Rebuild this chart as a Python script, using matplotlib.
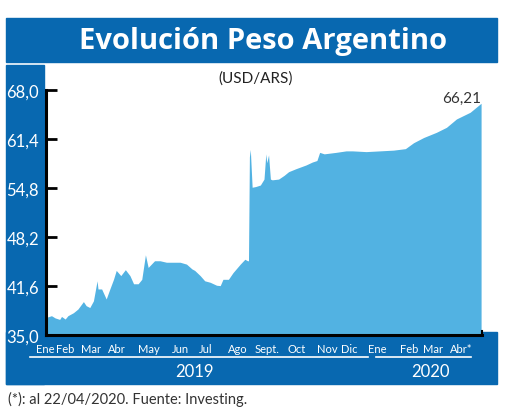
import matplotlib
matplotlib.use("Agg")
import matplotlib.pyplot as plt
from matplotlib.patches import Rectangle
from matplotlib.lines import Line2D
import pandas as pd

# --- data ---
dates = [
    "2019-01-02", "2019-01-07", "2019-01-11", "2019-01-16", "2019-01-18", "2019-01-22",
    "2019-01-25", "2019-01-31", "2019-02-05", "2019-02-11", "2019-02-14", "2019-02-18",
    "2019-02-22", "2019-02-26", "2019-02-27", "2019-03-03", "2019-03-08", "2019-03-12",
    "2019-03-16", "2019-03-19", "2019-03-24", "2019-03-29", "2019-04-03", "2019-04-07",
    "2019-04-12", "2019-04-16", "2019-04-20", "2019-04-23", "2019-04-30", "2019-05-06",
    "2019-05-13", "2019-05-17", "2019-05-28", "2019-06-04", "2019-06-10", "2019-06-13",
    "2019-06-19", "2019-06-24", "2019-06-30", "2019-07-07", "2019-07-11", "2019-07-14",
    "2019-07-20", "2019-07-25", "2019-08-02", "2019-08-07", "2019-08-10", "2019-08-11",
    "2019-08-12", "2019-08-13", "2019-08-15", "2019-08-19", "2019-08-24", "2019-08-28",
    "2019-08-30", "2019-08-31", "2019-09-02", "2019-09-04", "2019-09-06", "2019-09-13",
    "2019-09-19", "2019-09-24", "2019-10-02", "2019-10-13", "2019-10-20", "2019-10-25",
    "2019-10-28", "2019-11-02", "2019-11-15", "2019-11-26", "2019-12-03", "2019-12-18",
    "2020-01-02", "2020-01-17", "2020-01-30", "2020-02-08", "2020-02-19", "2020-03-04",
    "2020-03-15", "2020-03-26", "2020-04-10", "2020-04-22",
]
usd_ars = [
    37.4, 37.6, 37.3, 37.1, 37.5, 37.15,
    37.6, 38.0, 38.5, 39.5, 38.95, 38.7,
    39.6, 42.3, 41.2, 41.2, 39.85, 41.2,
    42.5, 43.7, 43.0, 43.8, 43.0, 41.9,
    41.9, 42.5, 45.8, 44.1, 45.0, 45.0,
    44.8, 44.8, 44.8, 44.55, 43.9, 43.7,
    43.0, 42.3, 42.1, 41.7, 41.65, 42.5,
    42.5, 43.4, 44.55, 45.2, 45.0, 45.0,
    59.0, 60.0, 54.9, 55.0, 55.2, 56.0,
    59.4, 58.2, 59.25, 56.0, 55.9, 56.0,
    56.5, 57.0, 57.4, 57.9, 58.3, 58.5,
    59.6, 59.4, 59.6, 59.8, 59.8, 59.7,
    59.8, 59.9, 60.1, 60.9, 61.6, 62.3,
    62.97, 64.1, 65.0, 66.21,
]
yticks = [35.0, 41.6, 48.2, 54.8, 61.4, 68.0]
month_labels = ["Ene", "Feb", "Mar", "Abr", "May", "Jun", "Jul", "Ago", "Sept.",
                "Oct", "Nov", "Dic", "Ene", "Feb", "Mar", "Abr*"]
month_pos = ["2018-12-31", "2019-01-22", "2019-02-19", "2019-03-20", "2019-04-24",
             "2019-05-28", "2019-06-25", "2019-07-30", "2019-08-31", "2019-10-03",
             "2019-11-05", "2019-11-30", "2019-12-30", "2020-02-03", "2020-02-29",
             "2020-03-31"]
last_label = "66,21"

BLUE = "#0868B0"
FILL = "#52B2E2"
W, H = 520, 410


def fx(px):
    return px / W


def fy(py):
    return 1 - py / H


plt.rcParams["font.family"] = ["Lato", "DejaVu Sans"]
fig = plt.figure(figsize=(W / 100, H / 100), dpi=100)

# blue frame pieces
for x0, y0, x1, y1 in [(6, 19, 497, 63), (6, 66, 44, 385), (6, 333, 497, 385)]:
    fig.add_artist(Rectangle((fx(x0), fy(y1)), fx(x1) - fx(x0), fy(y0) - fy(y1),
                             transform=fig.transFigure, color=BLUE, zorder=-5))

fig.text(fx(263), fy(41), "Evolución Peso Argentino", color="white",
         fontsize=21, fontweight="bold", ha="center", va="center",
         family=["Open Sans", "DejaVu Sans"])
fig.text(fx(256), fy(79), "(USD/ARS)", color="#222222", fontsize=11,
         ha="center", va="center")
fig.text(fx(8), fy(399), "(*): al 22/04/2020. Fuente: Investing.", color="#333333",
         fontsize=10.5, ha="left", va="center")

ax = fig.add_axes([fx(46), fy(336), fx(482) - fx(46), fy(91) - fy(336)])
ax.set_facecolor("none")

d = pd.to_datetime(dates)
ax.fill_between(d, 35, usd_ars, color=FILL, lw=0)
ax.set_ylim(35, 68)
ax.set_xlim(pd.Timestamp("2019-01-01"), pd.Timestamp("2020-04-23"))

ax.set_yticks(yticks)
ax.set_yticklabels([f"{t:.1f}".replace(".", ",") for t in yticks])
ax.tick_params(axis="y", direction="in", length=8, width=2, colors="black",
               labelcolor="white", labelsize=12, pad=5)
ax.set_xticks([])
ax.spines["top"].set_visible(False)
ax.spines["left"].set_linewidth(2.2)
ax.spines["bottom"].set_linewidth(2.2)
ax.spines["right"].set_bounds(35, 35.6)
ax.spines["right"].set_linewidth(1.5)

ax.text(pd.Timestamp(dates[-1]), 67.0, last_label, ha="right", va="center",
        fontsize=11, color="#333333")

xt = ax.get_xaxis_transform()
for lab, pos in zip(month_labels, month_pos):
    ax.text(pd.Timestamp(pos), -0.057, lab, transform=xt, ha="center", va="center",
            color="white", fontsize=8, clip_on=False)

# year underlines and labels
fig.add_artist(Line2D([fx(30), fx(368)], [fy(358), fy(358)], color="white", lw=1.2,
                      transform=fig.transFigure))
fig.add_artist(Line2D([fx(376), fx(471)], [fy(358), fy(358)], color="white", lw=1.2,
                      transform=fig.transFigure))
fig.text(fx(194), fy(372), "2019", color="white", fontsize=12, ha="center", va="center")
fig.text(fx(430), fy(372), "2020", color="white", fontsize=12, ha="center", va="center")

fig.savefig("out.png", dpi=100)
